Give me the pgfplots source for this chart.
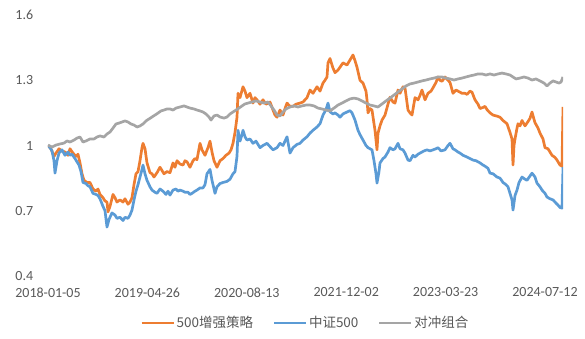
\documentclass[border=0pt]{standalone}
\usepackage{fontspec}
\setmainfont{Carlito}
\newfontfamily\cjk{Noto Sans CJK SC}
\usepackage{pgfplots}
\pgfplotsset{compat=1.18}
\definecolor{cOr}{HTML}{ED7D31}
\definecolor{cBl}{HTML}{5B9BD5}
\definecolor{cGr}{HTML}{A5A5A5}
\definecolor{cTx}{HTML}{595959}
\begin{document}
\fontsize{14pt}{17pt}\selectfont
\begin{tikzpicture}
\path[use as bounding box] (-48pt,-63pt) rectangle (537pt,276pt);
\begin{axis}[
  scale only axis, width=515pt, height=261pt,
  xmin=48, xmax=563, ymin=0.4, ymax=1.6,
  axis line style={draw=none},
  major tick length=0pt,
  xtick={48,147.4,246.8,346.2,445.6,545},
  xticklabels={2018-01-05,2019-04-26,2020-08-13,2021-12-02,2023-03-23,2024-07-12},
  ytick={0.4,0.7,1,1.3,1.6},
  yticklabels={0.4,0.7,1,1.3,1.6},
  /pgf/number format/assume math mode=true,
  ticklabel style={font=\fontsize{14pt}{17pt}\selectfont, text=cTx},
  yticklabel style={xshift=-10pt},
  xticklabel style={yshift=-7pt},
  legend columns=3,
  legend style={draw=none, at={(0.5,-0.18)}, anchor=center, font=\cjk\fontsize{13.5pt}{16pt}\selectfont, text=cTx,
     /tikz/every even column/.append style={column sep=18pt}, inner sep=0pt},
  legend image code/.code={\draw[#1, line width=2pt] (0pt,0pt) -- (32pt,0pt);},
  every axis plot/.append style={line width=2.7pt, line join=round},
]
\addplot[cOr] coordinates {
(48,1.00)(51,0.985)(54,0.95)(56,0.965)(59,0.985)(62,0.975)(65,0.97)(68,0.955)(70,0.985)(73,0.965)
(76,0.95)(78,0.96)(80,0.92)(82,0.87)(84,0.84)(87,0.83)(90,0.83)(93,0.80)(96,0.79)(98,0.80)
(100,0.775)(103,0.76)(105,0.745)(107,0.74)(108,0.695)(110,0.72)(113,0.775)(115,0.76)(117,0.74)(120,0.75)
(123,0.74)(125,0.755)(128,0.73)(130,0.74)(132,0.76)(134,0.82)(136,0.87)(138,0.88)(140,0.93)(142,0.99)
(143,1.01)(145,0.985)(147,0.92)(150,0.875)(152,0.87)(154,0.855)(157,0.875)(160,0.9)(162,0.885)(164,0.87)
(167,0.88)(170,0.875)(173,0.92)(175,0.90)(177,0.93)(180,0.915)(183,0.91)(185,0.93)(187,0.925)(190,0.9)
(193,0.93)(195,0.94)(197,0.935)(200,1.01)(202,0.98)(205,0.955)(208,0.99)(210,1.02)(212,0.97)(214,0.93)
(217,0.9)(220,0.93)(223,0.94)(226,0.955)(229,0.965)(231,0.98)(233,1.01)(235,1.06)(237,1.13)(238,1.24)
(240,1.22)(243,1.27)(245,1.25)(247,1.22)(250,1.24)(253,1.195)(255,1.22)(257,1.21)(260,1.19)(263,1.21)
(266,1.19)(270,1.20)(273,1.163)(275,1.14)(277,1.13)(280,1.163)(283,1.14)(285,1.17)(287,1.195)(290,1.18)
(293,1.18)(296,1.19)(300,1.195)(303,1.20)(307,1.22)(310,1.255)(313,1.24)(317,1.27)(320,1.25)(323,1.287)
(325,1.30)(327,1.315)(328,1.38)(330,1.40)(332,1.37)(333,1.356)(335,1.335)(338,1.347)(340,1.36)(343,1.38)
(347,1.37)(350,1.393)(353,1.416)(355,1.39)(357,1.36)(360,1.30)(363,1.287)(366,1.25)(367,1.21)(368,1.15)
(370,1.17)(372,1.163)(374,1.10)(375,1.07)(377,0.98)(378,1.057)(380,1.09)(382,1.117)(385,1.14)(388,1.19)
(390,1.222)(393,1.20)(395,1.195)(398,1.255)(400,1.24)(403,1.27)(405,1.265)(408,1.163)(410,1.15)(412,1.14)
(415,1.22)(418,1.21)(420,1.23)(422,1.255)(425,1.21)(428,1.24)(431,1.25)(433,1.265)(436,1.29)(438,1.315)
(440,1.30)(442,1.295)(445,1.315)(448,1.30)(450,1.29)(453,1.24)(456,1.255)(458,1.25)(462,1.24)(465,1.24)
(467,1.235)(470,1.25)(472,1.245)(475,1.21)(478,1.19)(480,1.17)(483,1.175)(485,1.18)(487,1.165)(490,1.15)
(493,1.14)(497,1.135)(500,1.13)(503,1.115)(507,1.10)(510,1.06)(512,1.03)(513,0.91)(514,1.00)(515,1.03)
(517,1.08)(518,1.10)(520,1.09)(522,1.115)(525,1.09)(528,1.11)(530,1.125)(532,1.154)(534,1.12)(535,1.105)
(538,1.08)(540,1.057)(543,1.03)(545,0.99)(548,0.985)(550,0.97)(552,0.955)(555,0.945)(557,0.933)(560,0.91)
(562,0.905)(563,1.177)
};
\addlegendentry{500增强策略}
\addplot[cBl] coordinates {
(48,1.00)(50,0.99)(52,0.975)(54,0.93)(55,0.873)(57,0.93)(59,0.965)(62,0.98)(65,0.955)(68,0.97)
(70,0.955)(72,0.96)(75,0.94)(77,0.925)(79,0.91)(81,0.88)(83,0.83)(86,0.825)(88,0.815)(90,0.81)
(93,0.78)(96,0.775)(98,0.77)(100,0.755)(103,0.72)(105,0.70)(107,0.625)(109,0.66)(112,0.69)(115,0.68)
(117,0.665)(120,0.67)(123,0.655)(125,0.67)(128,0.665)(130,0.68)(132,0.703)(134,0.75)(136,0.79)(138,0.82)
(140,0.855)(142,0.89)(143,0.91)(145,0.87)(147,0.84)(150,0.81)(152,0.795)(155,0.785)(157,0.78)(160,0.80)
(163,0.79)(166,0.775)(168,0.79)(170,0.772)(173,0.795)(176,0.80)(178,0.79)(180,0.795)(183,0.79)(185,0.785)
(188,0.785)(190,0.775)(192,0.78)(195,0.79)(197,0.795)(200,0.805)(203,0.805)(205,0.82)(207,0.87)(210,0.89)
(212,0.84)(215,0.78)(217,0.81)(220,0.825)(223,0.83)(227,0.835)(230,0.845)(233,0.87)(235,0.88)(237,0.95)
(238,1.07)(240,1.02)(242,1.05)(243,1.07)(245,1.04)(247,1.025)(250,1.03)(253,1.01)(256,1.02)(260,0.99)
(263,1.00)(267,1.01)(270,0.995)(273,0.98)(277,0.99)(280,1.01)(283,1.00)(287,1.04)(290,0.965)(293,0.99)
(297,1.005)(300,1.01)(303,1.025)(307,1.04)(310,1.057)(313,1.07)(317,1.085)(320,1.10)(323,1.14)(326,1.165)
(328,1.195)(330,1.155)(333,1.145)(335,1.15)(338,1.14)(340,1.13)(343,1.145)(347,1.154)(350,1.16)(352,1.15)
(355,1.117)(358,1.07)(360,1.05)(363,1.025)(366,1.00)(368,0.99)(370,0.985)(372,0.98)(374,0.93)(376,0.87)
(377,0.827)(379,0.88)(380,0.92)(383,0.94)(385,0.947)(388,0.97)(390,0.99)(393,0.98)(395,0.985)(398,1.01)
(400,0.985)(403,0.98)(405,0.965)(408,0.933)(410,0.93)(413,0.955)(415,0.947)(418,0.96)(420,0.965)(424,0.975)
(427,0.98)(430,0.975)(433,0.98)(436,0.985)(438,0.99)(441,0.975)(445,0.98)(448,1.00)(450,1.01)(453,0.985)
(455,0.98)(458,0.97)(460,0.965)(463,0.955)(467,0.947)(470,0.94)(473,0.933)(476,0.93)(480,0.92)(483,0.91)
(485,0.905)(488,0.895)(490,0.873)(493,0.87)(497,0.855)(500,0.85)(503,0.83)(506,0.82)(508,0.81)(510,0.78)
(512,0.75)(513,0.703)(515,0.77)(517,0.795)(519,0.83)(522,0.855)(525,0.845)(527,0.84)(530,0.86)(532,0.873)
(535,0.855)(537,0.827)(540,0.81)(542,0.795)(545,0.78)(547,0.763)(550,0.755)(553,0.75)(556,0.735)(558,0.726)
(560,0.715)(562,0.712)(563,0.90)
};
\addlegendentry{中证500}
\addplot[cGr] coordinates {
(48,1.002)(52,0.993)(56,1.002)(60,1.007)(64,1.011)(67,1.021)(70,1.016)(74,1.025)(77,1.034)(80,1.039)
(83,1.016)(86,1.021)(90,1.030)(94,1.030)(97,1.039)(100,1.044)(104,1.039)(107,1.053)(110,1.062)(113,1.080)
(116,1.099)(119,1.103)(122,1.108)(125,1.113)(128,1.108)(131,1.099)(134,1.094)(137,1.085)(140,1.090)(143,1.099)
(146,1.113)(149,1.122)(152,1.131)(155,1.140)(158,1.149)(161,1.159)(164,1.163)(167,1.168)(170,1.168)(173,1.163)
(176,1.172)(180,1.177)(184,1.182)(187,1.177)(190,1.172)(194,1.168)(197,1.163)(200,1.159)(203,1.154)(206,1.145)
(209,1.131)(211,1.117)(214,1.136)(217,1.140)(220,1.131)(224,1.126)(227,1.131)(230,1.145)(233,1.154)(236,1.163)
(239,1.172)(242,1.182)(245,1.191)(248,1.195)(252,1.200)(256,1.205)(260,1.200)(264,1.195)(268,1.200)(271,1.182)
(274,1.163)(277,1.140)(280,1.136)(283,1.154)(286,1.168)(290,1.177)(294,1.182)(298,1.177)(302,1.182)(306,1.186)
(310,1.186)(314,1.182)(318,1.172)(322,1.168)(326,1.163)(330,1.159)(334,1.172)(338,1.186)(342,1.195)(346,1.205)
(350,1.214)(354,1.218)(358,1.214)(362,1.205)(366,1.195)(370,1.186)(374,1.182)(378,1.177)(382,1.191)(386,1.205)
(390,1.218)(394,1.232)(398,1.246)(402,1.260)(406,1.274)(410,1.283)(414,1.287)(418,1.292)(422,1.297)(426,1.301)
(430,1.306)(434,1.310)(438,1.315)(442,1.315)(446,1.310)(450,1.306)(454,1.301)(458,1.306)(462,1.310)(466,1.315)
(470,1.320)(474,1.324)(478,1.329)(482,1.329)(486,1.324)(490,1.329)(494,1.324)(498,1.329)(502,1.333)(506,1.329)
(510,1.324)(513,1.315)(516,1.306)(520,1.310)(524,1.315)(528,1.310)(532,1.301)(536,1.306)(540,1.297)(544,1.287)
(547,1.274)(550,1.287)(553,1.297)(556,1.292)(559,1.287)(561,1.292)(563,1.315)
};
\addlegendentry{对冲组合}
\end{axis}
\end{tikzpicture}
\end{document}
